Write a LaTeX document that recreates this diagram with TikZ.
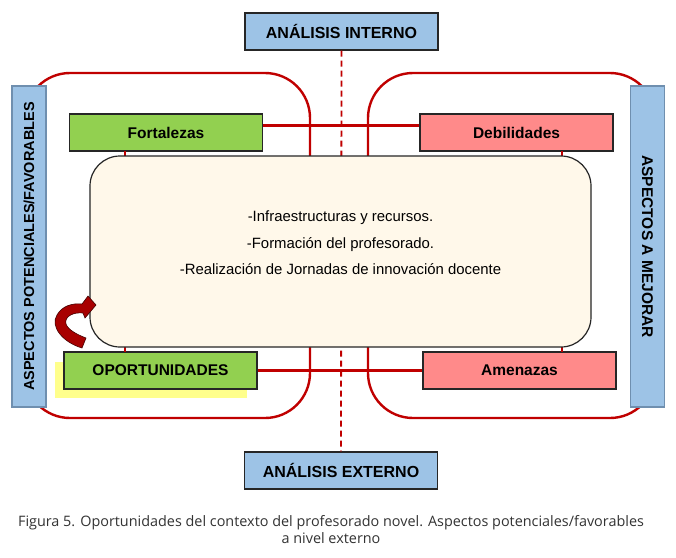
\documentclass[tikz,border=0pt]{standalone}
\usepackage{fontspec}
\setmainfont{Liberation Sans}
\newfontfamily\capfont{Open Sans}
\usetikzlibrary{arrows.meta}
\definecolor{sred}{HTML}{C00000}
\definecolor{sblue}{HTML}{9DC3E6}
\definecolor{sblueline}{HTML}{6F8FAF}
\definecolor{sgreen}{HTML}{92D050}
\definecolor{spink}{HTML}{FF8A8A}
\definecolor{syellow}{HTML}{FFFF8C}
\definecolor{scream}{HTML}{FFF8EA}
\definecolor{sarrow}{HTML}{A80000}
\tikzset{
  frame/.style={draw=sred, line width=2.4pt, rounded corners=45pt},
  redlink/.style={draw=sred, line width=3pt},
  redstub/.style={draw=sred, line width=2pt},
  dashlink/.style={draw=sred, line width=1.8pt, dash pattern=on 6pt off 4pt},
  labelbox/.style={draw=black!85, line width=1.2pt, inner sep=0pt, minimum width=193pt, minimum height=37pt, font=\fontsize{15.5}{18}\selectfont\bfseries},
  sidebox/.style={draw=sblueline, fill=sblue, line width=1.2pt, inner sep=0pt, minimum width=321pt, minimum height=34pt, font=\fontsize{14.5}{17}\selectfont\bfseries},
}
\begin{document}
\begin{tikzpicture}[x=1pt,y=-1pt]
\useasboundingbox (0,0) rectangle (676,557);
\fill[white] (0,0) rectangle (676,557);
% red rounded frames
\draw[frame] (25,73) rectangle (310,418);
\draw[frame] (368,73) rectangle (655,418);
% top / bottom analysis boxes
\node[labelbox, fill=sblue, font=\fontsize{16}{18}\selectfont\bfseries] (ai) at (341.5,31.5) {ANÁLISIS INTERNO};
\node[labelbox, fill=sblue, font=\fontsize{16}{18}\selectfont\bfseries] (ae) at (341,470.5) {ANÁLISIS EXTERNO};
\draw[dashlink] (ai.south) -- (ae.north);
% quadrant boxes
\fill[syellow] (55,362) rectangle (247,398);
\node[labelbox, fill=sgreen] (fo) at (166,132.5) {Fortalezas};
\node[labelbox, fill=spink] (de) at (516.5,132.5) {Debilidades};
\node[labelbox, fill=sgreen] (op) at (160.5,370.5) {OPORTUNIDADES};
\node[labelbox, fill=spink] (am) at (519.5,370.5) {Amenazas};
\coordinate (f1) at (fo.east |- 0,125);
\coordinate (d1) at (de.west |- 0,125);
\draw[redlink] (f1) -- (d1);
\draw[redlink] (op.east) -- (am.west);
\coordinate (fs) at (125,151);
\coordinate (os) at (125,352);
\coordinate (ds) at (562,151);
\coordinate (as) at (562,352);
\draw[redstub] (fs) -- (os);
\draw[redstub] (ds) -- (as);
% central box
\node[draw=black!85, fill=scream, line width=1.2pt, rounded corners=30pt, minimum width=501pt, minimum height=191pt, inner sep=0pt] (cb) at (340.5,251.5) {};
\node[align=center, font=\fontsize{14.9}{26.5}\selectfont] (tx) at (340.5,243) {-Infraestructuras y recursos.\\-Formación del profesorado.\\-Realización de Jornadas de innovación docente};
% side boxes
\node[sidebox, rotate=90] (lb) at (29,246.5) {ASPECTOS POTENCIALES/FAVORABLES};
\node[sidebox, rotate=-90, font=\fontsize{15.5}{18}\selectfont\bfseries] (rb) at (647.5,246.5) {ASPECTOS A MEJORAR};
% curved arrow
\fill[sarrow, draw=black!60!sarrow, line width=0.6pt]
  (82,348) .. controls (62,342) and (50,326) .. (57,315)
  .. controls (62,306) and (72,303) .. (82,304)
  -- (88,296) -- (96,305) -- (85,318) -- (83,313)
  .. controls (74,312) and (64,316) .. (66,324)
  .. controls (68,330) and (78,335) .. (86,338) -- cycle;
% caption
\node[font=\capfont\fontsize{14.4}{17}\selectfont, align=center, text=black!80] (cap) at (331,530) {Figura 5. Oportunidades del contexto del profesorado novel. Aspectos potenciales/favorables\\a nivel externo};
\end{tikzpicture}
\end{document}
